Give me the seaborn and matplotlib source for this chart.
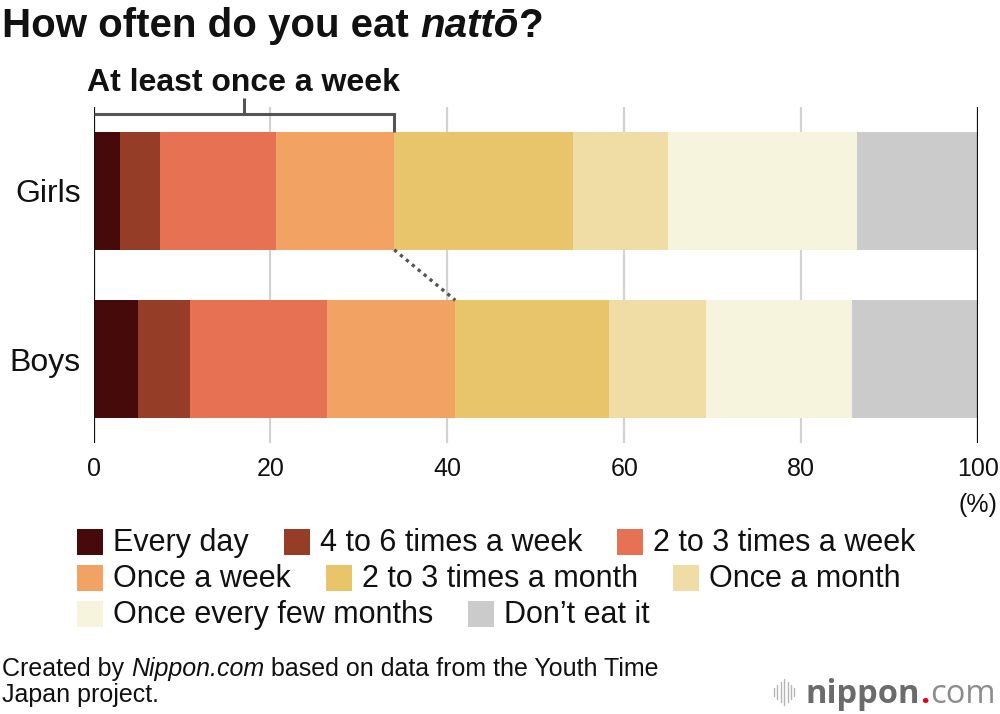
import numpy as np
import pandas as pd
import matplotlib
matplotlib.use("Agg")
import matplotlib.pyplot as plt
import seaborn as sns
from matplotlib.patches import Rectangle
from matplotlib.lines import Line2D

# ---------------- data ----------------
groups = ["Girls", "Boys"]
frequencies = ["Every day", "4 to 6 times a week", "2 to 3 times a week", "Once a week",
               "2 to 3 times a month", "Once a month", "Once every few months", "Don\u2019t eat it"]
every_day = [3.0, 5.0]
four_to_six_week = [4.5, 5.9]
two_to_three_week = [13.1, 15.5]
once_week = [13.4, 14.5]
two_to_three_month = [20.2, 17.4]
once_month = [10.8, 10.9]
few_months = [21.3, 16.5]
dont_eat = [13.7, 14.3]
x_ticks = [0, 20, 40, 60, 80, 100]
colors = ["#470a0a", "#963d28", "#e77153", "#f2a262", "#e8c46b", "#f0dca5", "#f6f4dc", "#cbcbcb"]

series = [every_day, four_to_six_week, two_to_three_week, once_week,
          two_to_three_month, once_month, few_months, dont_eat]

# ---------------- style ----------------
sns.set_theme(style="white")
plt.rcParams['font.family'] = ['Liberation Sans', 'DejaVu Sans']
W, H = 1000, 714
fig = plt.figure(figsize=(W / 100, H / 100), dpi=100)
fig.patch.set_facecolor("white")

ax = fig.add_axes([93.5 / W, 1 - 443 / H, (978 - 93.5) / W, (443 - 107) / H])

cum = np.cumsum(np.array(series), axis=0)
for i in reversed(range(len(series))):
    df = pd.DataFrame({"group": groups, "value": cum[i]})
    sns.barplot(data=df, x="value", y="group", orient="h", color=colors[i],
                width=0.7, saturation=1, errorbar=None, linewidth=0, ax=ax, zorder=2)

ax.set_xlim(0, 100)
ax.set_ylim(1.5, -0.5)
ax.set_xticks(x_ticks)
ax.set_xticklabels([str(t) for t in x_ticks])
ax.set_xlabel("")
ax.set_ylabel("")
for s in ax.spines.values():
    s.set_visible(False)
for t in x_ticks[1:-1]:
    ax.axvline(t, color="#d2d2d2", lw=1.6, zorder=0)
for t in (x_ticks[0], x_ticks[-1]):
    ax.axvline(t, color="#111111", lw=1.6, zorder=3)
ax.tick_params(axis="x", length=0, labelsize=18, pad=10, colors="#111111")
ax.tick_params(axis="y", length=0, labelsize=23, pad=9, colors="#111111")

# bracket "At least once a week"
g4 = cum[3][0]
b4 = cum[3][1]
bc = "#555555"
ax.plot([0, g4, g4], [-0.458, -0.458, -0.35], color=bc, lw=2.2, clip_on=False,
        solid_capstyle="butt", solid_joinstyle="miter", zorder=4)
ax.plot([g4 / 2, g4 / 2], [-0.458, -0.555], color=bc, lw=2.2, clip_on=False,
        solid_capstyle="butt", zorder=4)
ax.text(g4 / 2, -0.597, "At least once a week", ha="center", va="baseline",
        fontsize=23, fontweight="bold", color="#111111", clip_on=False)
ax.plot([g4, b4], [0.35, 0.65], color=bc, lw=2.4, linestyle=(0, (1, 1.3)),
        dash_capstyle="butt", zorder=4)

fig.text(997 / W, 1 - 505 / H, "(%)", ha="right", va="center", fontsize=18, color="#111111")

renderer = fig.canvas.get_renderer()


def text_width(s, **kw):
    t = fig.text(0, 0, s, **kw)
    w = t.get_window_extent(renderer).width
    t.remove()
    return w


def draw_runs(x_px, y_px, runs, **kw):
    x = x_px
    for s, extra in runs:
        opts = dict(kw)
        opts.update(extra)
        lead = len(s) - len(s.lstrip(" "))
        trail = len(s) - len(s.rstrip(" "))
        sp = text_width("a a", **opts) - text_width("aa", **opts)
        x += lead * sp
        core = s.strip(" ")
        t = fig.text(x / W, 1 - y_px / H, core, ha="left", va="baseline", **opts)
        x += t.get_window_extent(renderer).width + trail * sp
    return x


# title
draw_runs(2, 37, [("How often do you eat ", {}), ("natt\u014d", {"fontstyle": "italic"}), ("?", {})],
          fontsize=29, fontweight="bold", color="#111111")

# legend (flow layout)
sq = 26
x0, x = 77, 77
row_top = 529
pitch = 36
wrap = 945
for name, col in zip(frequencies, colors):
    tw = text_width(name, fontsize=22)
    if x + sq + 10 + tw > wrap and x > x0:
        x = x0
        row_top += pitch
    fig.patches.append(Rectangle((x / W, 1 - (row_top + sq) / H), sq / W, sq / H,
                                 transform=fig.transFigure, facecolor=col, edgecolor="none"))
    fig.text((x + sq + 10) / W, 1 - (row_top + sq / 2 + 1) / H, name, ha="left", va="center",
             fontsize=22, color="#111111")
    x = x + sq + 10 + tw + 35

# footer
draw_runs(2, 676, [("Created by ", {}), ("Nippon.com", {"fontstyle": "italic"}),
                   (" based on data from the Youth Time", {})], fontsize=18, color="#111111")
draw_runs(2, 702, [("Japan project.", {})], fontsize=18, color="#111111")

# logo
bars_h = [8, 14, 20, 26, 20, 14, 8]
for k, hh in enumerate(bars_h):
    xx = 774 + k * 3.4
    fig.lines.append(Line2D([xx / W, xx / W], [1 - (692 - hh / 2) / H, 1 - (692 + hh / 2) / H],
                            transform=fig.transFigure, color="#b5b5b5", lw=1.0))
draw_runs(806, 703, [("nippon", {"fontweight": "bold", "color": "#6b6b6b"}),
                     (".", {"fontweight": "bold", "color": "#e60012"}),
                     ("com", {"color": "#8c8c8c"})], fontsize=23.5, family=["Open Sans", "DejaVu Sans"])

fig.savefig("out.png", dpi=100, facecolor="white")
